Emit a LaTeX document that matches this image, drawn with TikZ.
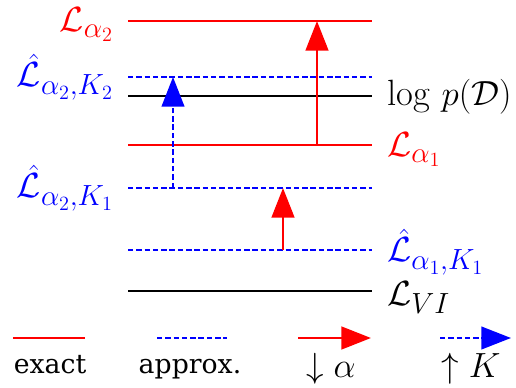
\documentclass[tikz,border=0pt]{standalone}
\usepackage{fontspec}
\usepackage{amsmath}
\usepackage{amssymb}
\usetikzlibrary{arrows.meta,calc}
\newfontfamily\legendfont{DejaVu Serif}
\DeclareMathSizes{26}{26}{19.5}{13.5}

\begin{document}
\begin{tikzpicture}[
  exact/.style={red, line width=2pt},
  approx/.style={blue, line width=1.6pt, dash pattern=on 3.9pt off 2pt},
  bound/.style={black, line width=2pt},
  tip/.style={-{Triangle[width=16pt,length=21pt]}},
  lbl/.style={font=\fontsize{26}{30}\selectfont, inner sep=0pt},
  legmath/.style={font=\fontsize{25}{30}\selectfont, inner sep=0pt},
  leg/.style={font=\legendfont\fontsize{19}{23}\selectfont, inner sep=0pt}
]
  \useasboundingbox (0,0) rectangle (12.9,9.7);
  \def\xl{3.2}
  \def\xr{9.3}

  % levels, top to bottom
  \coordinate (a2l) at (\xl,9.175);  \coordinate (a2r) at (\xr,9.175);
  \coordinate (k22l) at (\xl,7.775); \coordinate (k22r) at (\xr,7.775);
  \coordinate (evl) at (\xl,7.3);    \coordinate (evr) at (\xr,7.3);
  \coordinate (a1l) at (\xl,6.075);  \coordinate (a1r) at (\xr,6.075);
  \coordinate (k21l) at (\xl,5.0);   \coordinate (k21r) at (\xr,5.0);
  \coordinate (k11l) at (\xl,3.45);  \coordinate (k11r) at (\xr,3.45);
  \coordinate (vil) at (\xl,2.425);  \coordinate (vir) at (\xr,2.425);

  \draw[exact] (a2l) -- (a2r);
  \draw[approx] (k22l) -- (k22r);
  \draw[bound] (evl) -- (evr);
  \draw[exact] (a1l) -- (a1r);
  \draw[approx] (k21l) -- (k21r);
  \draw[approx] (k11l) -- (k11r);
  \draw[bound] (vil) -- (vir);

  % steps between levels
  \coordinate (s1) at (7.925,6.075);
  \coordinate (s2) at (4.325,5.0);
  \coordinate (s3) at (7.075,3.45);
  \draw[exact, tip] (s1) -- (s1 |- a2l);
  \draw[approx, tip] (s2) -- (s2 |- k22l);
  \draw[exact, tip] (s3) -- (s3 |- k21l);

  % labels on the left
  \node[lbl, red, anchor=base east] (ta2) at ($(a2l)+(-0.36,-0.275)$) {$\mathcal{L}_{\alpha_2}$};
  \node[lbl, blue, anchor=base east] (tk22) at ($(k22l)+(-0.36,-0.25)$) {$\hat{\mathcal{L}}_{\alpha_2,K_2}$};
  \node[lbl, blue, anchor=base east] (tk21) at ($(k21l)+(-0.36,-0.25)$) {$\hat{\mathcal{L}}_{\alpha_2,K_1}$};
  % labels on the right
  \node[lbl, anchor=base west] (tev) at ($(evr)+(0.375,-0.25)$) {$\log\,p(\mathcal{D})$};
  \node[lbl, red, anchor=base west] (ta1) at ($(a1r)+(0.375,-0.3)$) {$\mathcal{L}_{\alpha_1}$};
  \node[lbl, blue, anchor=base west] (tk11) at ($(k11r)+(0.375,-0.3)$) {$\hat{\mathcal{L}}_{\alpha_1,K_1}$};
  \node[lbl, anchor=base west] (tvi) at ($(vir)+(0.375,-0.375)$) {$\mathcal{L}_{VI}$};

  % legend
  \coordinate (g1a) at (0.325,1.25);  \coordinate (g1b) at (2.125,1.25);
  \coordinate (g2a) at (3.925,1.25);  \coordinate (g2b) at (5.675,1.25);
  \coordinate (g3a) at (7.45,1.25);   \coordinate (g3b) at (9.275,1.25);
  \coordinate (g4a) at (11.0,1.25);   \coordinate (g4b) at (12.775,1.25);
  \draw[exact] (g1a) -- (g1b);
  \draw[approx] (g2a) -- (g2b);
  \draw[exact, tip] (g3a) -- (g3b);
  \draw[approx, tip] (g4a) -- (g4b);
  \node[leg, anchor=base] (lexact) at (1.25,0.35) {exact};
  \node[leg, anchor=base] (lapprox) at (4.75,0.35) {approx.};
  \node[legmath, anchor=base] (lalpha) at (8.275,0.25) {$\downarrow\alpha$};
  \node[legmath, anchor=base] (lk) at (11.775,0.25) {$\uparrow K$};
\end{tikzpicture}
\end{document}
